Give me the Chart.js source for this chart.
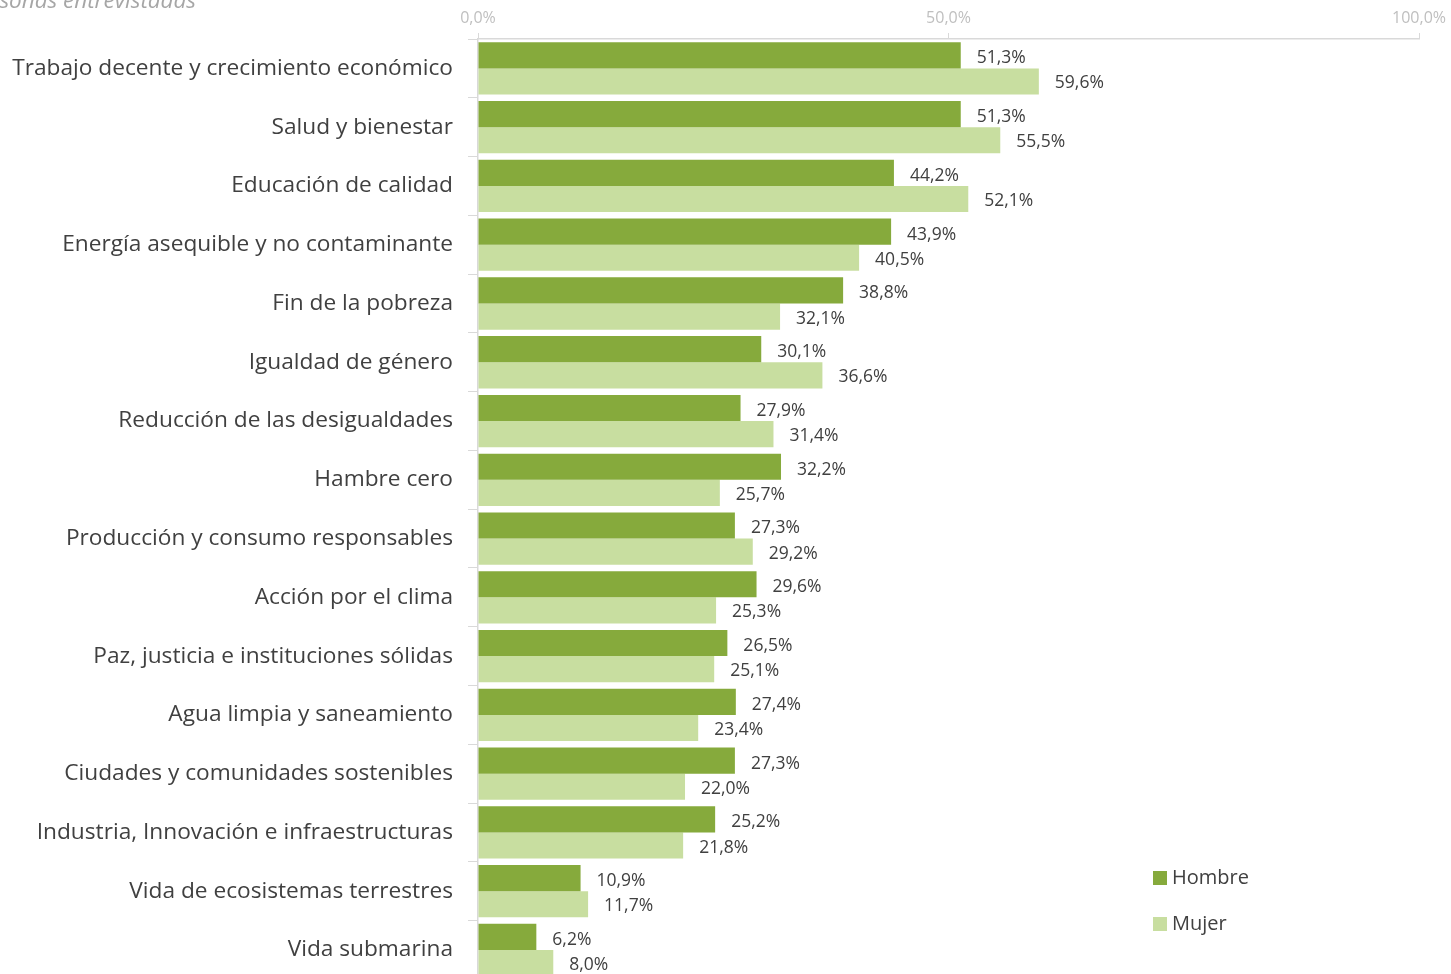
<!DOCTYPE html>
<html>
<head>
<meta charset="utf-8">
<script src="https://cdn.jsdelivr.net/npm/chart.js@4"></script>
<style>
html,body{margin:0;padding:0;overflow:hidden;background:#fff;}
#wrap{position:relative;width:1451px;height:1008px;}
</style>
</head>
<body>
<div id="wrap"><canvas id="c"></canvas></div>
<script>
const categories = [
  "Trabajo decente y crecimiento económico",
  "Salud y bienestar",
  "Educación de calidad",
  "Energía asequible y no contaminante",
  "Fin de la pobreza",
  "Igualdad de género",
  "Reducción de las desigualdades",
  "Hambre cero",
  "Producción y consumo responsables",
  "Acción por el clima",
  "Paz, justicia e instituciones sólidas",
  "Agua limpia y saneamiento",
  "Ciudades y comunidades sostenibles",
  "Industria, Innovación e infraestructuras",
  "Vida de ecosistemas terrestres",
  "Vida submarina"
];
const hombre = [51.3, 51.3, 44.2, 43.9, 38.8, 30.1, 27.9, 32.2, 27.3, 29.6, 26.5, 27.4, 27.3, 25.2, 10.9, 6.2];
const mujer  = [59.6, 55.5, 52.1, 40.5, 32.1, 36.6, 31.4, 25.7, 29.2, 25.3, 25.1, 23.4, 22.0, 21.8, 11.7, 8.0];
const seriesNames = ["Hombre", "Mujer"];
const xTicks = [0, 50, 100];
const titleText = "% de personas entrevistadas";

const FONT = "'Segoe UI', 'Open Sans', sans-serif";
const fmt = v => v.toFixed(1).replace('.', ',') + '%';

const labelPlugin = {
  id: 'valueLabels',
  afterDatasetsDraw(chart) {
    const ctx = chart.ctx;
    ctx.save();
    ctx.font = "17.5px " + FONT;
    ctx.fillStyle = '#404040';
    ctx.textAlign = 'left';
    ctx.textBaseline = 'middle';
    chart.data.datasets.forEach((ds, di) => {
      const meta = chart.getDatasetMeta(di);
      meta.data.forEach((bar, i) => {
        ctx.fillText(fmt(ds.data[i]), bar.x + 16, bar.y + (di === 0 ? 3 : 2));
      });
    });
    ctx.restore();
  }
};

const extrasPlugin = {
  id: 'extras',
  afterDraw(chart) {
    const ctx = chart.ctx;
    ctx.save();
    ctx.font = "italic 22.5px " + FONT;
    ctx.fillStyle = '#A6A6A6';
    ctx.textAlign = 'right';
    ctx.textBaseline = 'alphabetic';
    ctx.fillText(titleText, 196, 8);
    const lx = 1153, ly = [878, 924];
    ctx.font = "20px " + FONT;
    ctx.textAlign = 'left';
    ctx.textBaseline = 'middle';
    chart.data.datasets.forEach((ds, di) => {
      ctx.fillStyle = ds.backgroundColor;
      ctx.fillRect(lx, ly[di] - 7, 14, 14);
      ctx.fillStyle = '#404040';
      ctx.fillText(ds.label, lx + 19, ly[di]);
    });
    ctx.restore();
  }
};

new Chart(document.getElementById('c'), {
  type: 'bar',
  data: {
    labels: categories,
    datasets: [
      { label: seriesNames[0], data: hombre, backgroundColor: '#86AA3C', categoryPercentage: 0.89, barPercentage: 1.0 },
      { label: seriesNames[1], data: mujer, backgroundColor: '#C8DEA0', categoryPercentage: 0.89, barPercentage: 1.0 }
    ]
  },
  options: {
    indexAxis: 'y',
    responsive: true,
    maintainAspectRatio: false,
    animation: false,
    layout: { padding: { top: 0, left: 0, right: 31, bottom: 1 } },
    plugins: { legend: { display: false }, tooltip: { enabled: false } },
    scales: {
      x: {
        position: 'top',
        min: 0, max: 100,
        afterBuildTicks(scale) { scale.ticks = xTicks.map(v => ({ value: v })); },
        afterFit(scale) { scale.height = 39; },
        ticks: {
          callback: v => fmt(v),
          font: { family: FONT, size: 16 },
          color: '#BFBFBF',
          padding: 5,
          maxRotation: 0
        },
        grid: { drawOnChartArea: false, drawTicks: true, tickLength: 6, color: '#D9D9D9' },
        border: { display: true, color: '#D9D9D9', width: 1.5 }
      },
      y: {
        afterFit(scale) { scale.width = 478; },
        ticks: {
          font: { family: FONT, size: 22.7 },
          color: '#404040',
          padding: 15,
          autoSkip: false
        },
        grid: { drawOnChartArea: false, drawTicks: true, tickLength: 10, color: '#D9D9D9', offset: true },
        border: { display: true, color: '#D9D9D9', width: 1.5 }
      }
    }
  },
  plugins: [labelPlugin, extrasPlugin]
});
</script>
</body>
</html>
